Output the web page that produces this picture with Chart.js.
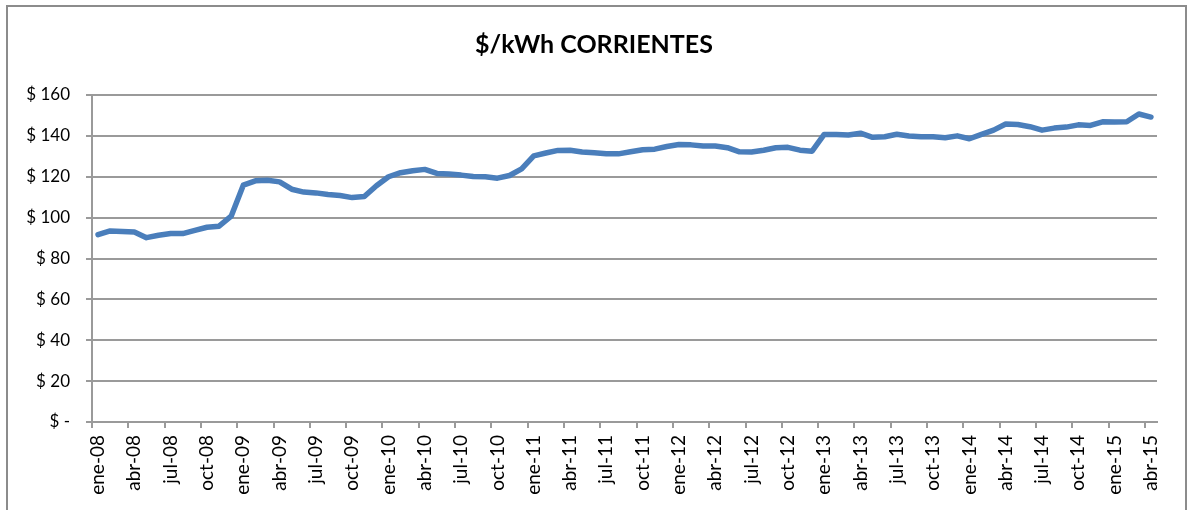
<!DOCTYPE html>
<html>
<head>
<meta charset="utf-8">
<script src="https://cdn.jsdelivr.net/npm/chart.js@4/dist/chart.umd.min.js"></script>
<style>
  html, body { margin: 0; padding: 0; background: #fff; overflow: hidden; }
  #marco { position: absolute; left: 6px; top: 5px; width: 1177px; height: 540px; border: 2px solid #8c8c8c; }
  #grafico { position: absolute; left: 0; top: 0; }
</style>
</head>
<body>
<div id="marco"></div>
<canvas id="grafico" width="1188" height="510"></canvas>
<script>
const meses = ["ene", "feb", "mar", "abr", "may", "jun", "jul", "ago", "sep", "oct", "nov", "dic"];
const anios = ["08", "09", "10", "11", "12", "13", "14", "15"];
const ultimoMes = 4; // la serie termina en abr-15

// $/kWh mensual, ene-08 .. abr-15
const precios = [
  91.7, 93.5, 93.2, 93.0, 90.2, 91.4, 92.2, 92.2, 93.8, 95.3, 95.8, 100.7,
  115.9, 118.0, 118.3, 117.5, 113.9, 112.5, 112.1, 111.3, 110.8, 109.8, 110.3, 115.6,
  120.0, 122.0, 122.9, 123.6, 121.6, 121.3, 120.8, 120.1, 120.0, 119.3, 120.6, 123.9,
  130.2, 131.6, 132.9, 133.0, 132.1, 131.7, 131.2, 131.2, 132.2, 133.2, 133.5, 134.8,
  135.8, 135.6, 135.0, 135.0, 134.2, 132.2, 132.1, 133.0, 134.2, 134.4, 133.0, 132.5,
  140.7, 140.7, 140.4, 141.3, 139.3, 139.6, 140.8, 139.9, 139.6, 139.6, 139.1, 140.0,
  138.6, 140.7, 142.8, 145.8, 145.6, 144.5, 142.8, 143.8, 144.3, 145.4, 145.1, 146.9,
  146.8, 146.9, 150.7, 149.2
];

const yTicks = [0, 20, 40, 60, 80, 100, 120, 140, 160];

const etiquetas = [];
anios.forEach((a, i) => {
  const n = i === anios.length - 1 ? ultimoMes : 12;
  for (let m = 0; m < n; m++) etiquetas.push(meses[m] + "-" + a);
});

const GRIS = "#9a9a9a";
const fuente = "Lato, 'Liberation Sans', sans-serif";

new Chart(document.getElementById("grafico"), {
  type: "line",
  data: {
    labels: etiquetas,
    datasets: [{
      data: precios,
      borderColor: "#4a7ebb",
      borderWidth: 5.5,
      pointRadius: 0,
      tension: 0,
      borderJoinStyle: "round",
      borderCapStyle: "round",
    }],
  },
  options: {
    responsive: false,
    animation: false,
    layout: { padding: 0 },
    plugins: {
      legend: { display: false },
      tooltip: { enabled: false },
      title: {
        display: true,
        text: "$/kWh CORRIENTES",
        color: "#000",
        font: { family: fuente, size: 25, weight: "bold" },
        padding: { top: 30, bottom: 35 },
      },
    },
    scales: {
      x: {
        type: "category",
        offset: true,
        border: { display: true, color: GRIS, width: 2 },
        grid: {
          offset: true,
          drawOnChartArea: false,
          drawTicks: true,
          tickLength: 6,
          lineWidth: 2,
          tickColor: (ctx) => (ctx.index % 3 === 0 ? GRIS : "rgba(0,0,0,0)"),
        },
        ticks: {
          autoSkip: false,
          maxRotation: 90,
          minRotation: 90,
          padding: 7,
          color: "#000",
          font: { family: fuente, size: 19 },
          callback: (v, i) => (i % 3 === 0 ? etiquetas[i] : ""),
        },
        afterFit: (s) => { s.height = 88; },
      },
      y: {
        min: 0,
        max: 160,
        afterBuildTicks: (s) => { s.ticks = yTicks.map((v) => ({ value: v })); },
        border: { display: true, color: GRIS, width: 2 },
        grid: { color: GRIS, lineWidth: 2, tickLength: 6, tickColor: GRIS },
        ticks: {
          padding: 16,
          color: "#000",
          font: { family: fuente, size: 17 },
          callback: (v) => (v === 0 ? "$ -" : "$ " + v),
        },
        afterFit: (s) => { s.width = 92; },
      },
      derecha: {
        type: "linear",
        position: "right",
        display: true,
        border: { display: false },
        grid: { display: false },
        ticks: { display: false },
        afterFit: (s) => { s.width = 31; },
      },
    },
  },
});
</script>
</body>
</html>
